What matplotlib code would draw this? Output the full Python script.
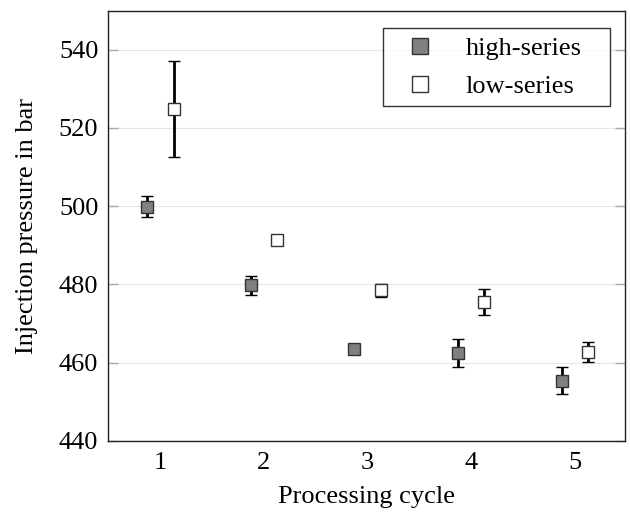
import matplotlib
matplotlib.use("Agg")
import matplotlib.pyplot as plt
import numpy as np

plt.rcParams['font.family'] = ['Liberation Serif', 'DejaVu Serif']

cycles = [1, 2, 3, 4, 5]
high_mean = [499.9, 479.75, 463.4, 462.4, 455.3]
high_err = [2.8, 2.35, 0.3, 3.6, 3.45]
low_mean = [524.9, 491.4, 478.5, 475.5, 462.7]
low_err = [12.2, 0.3, 1.7, 3.25, 2.45]

fig = plt.figure(figsize=(6.3, 5.12), dpi=100)
ax_l, ax_b, ax_w, ax_h = 108, 440.7, 517, 430
ax = fig.add_axes([ax_l / 630, 1 - ax_b / 512, ax_w / 630, ax_h / 512])

x = np.array(cycles, dtype=float)
off = 0.127
style = dict(fmt='s', ms=8, mec='#333333', mew=1.0, ecolor='black',
             elinewidth=2.0, capsize=4, capthick=1.8, zorder=3)
ax.errorbar(x - off, high_mean, yerr=high_err, mfc='#808080', label='high-series', **style)
ax.errorbar(x + off, low_mean, yerr=low_err, mfc='white', label='low-series', **style)

ax.set_xlim(0.494, 5.486)
ax.set_ylim(440, 550)
ax.set_xticks(cycles)
ax.set_yticks([440, 460, 480, 500, 520, 540])
ax.yaxis.grid(True, color='#e6e6e6', lw=0.8)
ax.set_axisbelow(True)
ax.tick_params(axis='y', direction='in', length=7, width=1.0, color='#aaaaaa',
               right=True, labelsize=19, pad=7)
ax.tick_params(axis='x', direction='in', length=0, labelsize=19, pad=8)
for s in ax.spines.values():
    s.set_color('#222222')
    s.set_linewidth(1.0)

ax.set_xlabel('Processing cycle', fontsize=19, labelpad=9)
ax.set_ylabel('Injection pressure in bar', fontsize=19, labelpad=15)

h, l = ax.get_legend_handles_labels()
h = [hh[0] for hh in h]
# legend box spans pixels 383..610 horizontally, 28..104 vertically
lx0, lx1, ly0, ly1 = 383, 610, 28, 104
leg = ax.legend(h, l, loc='upper left', mode='expand', fontsize=19, frameon=True,
                fancybox=False, edgecolor='black', handletextpad=0.6, borderpad=0.32,
                markerscale=1.5, labelspacing=0.55, handlelength=2.2, borderaxespad=0,
                bbox_to_anchor=((lx0 - ax_l) / ax_w, (ax_b - ly1) / ax_h,
                                (lx1 - lx0) / ax_w, (ly1 - ly0) / ax_h))
leg.get_frame().set_linewidth(1.0)

fig.savefig('out.png', dpi=100)
